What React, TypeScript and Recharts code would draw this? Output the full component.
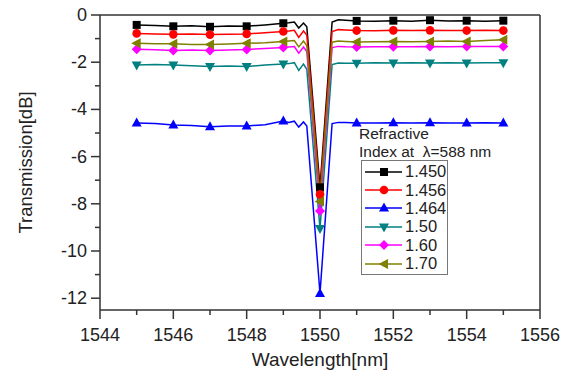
import { LineChart, Line, XAxis, YAxis, Legend, ReferenceLine } from 'recharts'

// wavelength grid (nm), dense around the 1550 nm notch
const wavelength = [
  1545, 1545.5, 1546, 1546.5, 1547, 1547.5, 1548, 1548.5, 1549, 1549.15, 1549.3, 1549.42,
  1549.55, 1549.64, 1550, 1550.33, 1550.5, 1550.7, 1551, 1551.5, 1552, 1552.5, 1553,
  1553.5, 1554, 1554.5, 1555,
]

// transmission in dB for each refractive index
const t1450 = [
  -0.42, -0.45, -0.48, -0.46, -0.5, -0.47, -0.48, -0.42, -0.35, -0.33, -0.3, -0.55, -0.34,
  -0.5, -7.3, -0.3, -0.2, -0.22, -0.25, -0.27, -0.24, -0.26, -0.22, -0.25, -0.24, -0.26, -0.24,
]
const t1456 = [
  -0.78, -0.8, -0.82, -0.8, -0.83, -0.82, -0.8, -0.75, -0.7, -0.68, -0.65, -0.95, -0.68,
  -0.85, -7.6, -0.7, -0.62, -0.64, -0.66, -0.67, -0.65, -0.66, -0.65, -0.66, -0.66, -0.65, -0.66,
]
const t1464 = [
  -4.58, -4.6, -4.66, -4.68, -4.74, -4.7, -4.7, -4.65, -4.49, -4.55, -4.5, -4.75, -4.53,
  -4.7, -11.8, -4.6, -4.55, -4.56, -4.58, -4.58, -4.57, -4.58, -4.57, -4.58, -4.58, -4.57, -4.58,
]
const t150 = [
  -2.12, -2.1, -2.12, -2.15, -2.18, -2.16, -2.18, -2.12, -2.08, -2.06, -2.02, -2.35, -2.08,
  -2.3, -9.05, -2.1, -2.03, -2.04, -2.04, -2.02, -2.03, -2.02, -2.03, -2.02, -2.03, -2.02, -2.02,
]
const t160 = [
  -1.45, -1.47, -1.5, -1.48, -1.5, -1.48, -1.46, -1.42, -1.38, -1.36, -1.34, -1.62, -1.36,
  -1.55, -8.3, -1.38, -1.33, -1.35, -1.36, -1.35, -1.35, -1.35, -1.34, -1.35, -1.34, -1.34, -1.34,
]
const t170 = [
  -1.2, -1.22, -1.22, -1.25, -1.25, -1.23, -1.2, -1.18, -1.12, -1.1, -1.08, -1.35, -1.1,
  -1.3, -7.9, -1.15, -1.1, -1.12, -1.14, -1.13, -1.12, -1.13, -1.12, -1.1, -1.12, -1.08, -1.05,
]

const xTicks = [1544, 1545, 1546, 1547, 1548, 1549, 1550, 1551, 1552, 1553, 1554, 1555, 1556]
const yTicks = [-12, -11, -10, -9, -8, -7, -6, -5, -4, -3, -2, -1, 0]

type Shape = 'square' | 'circle' | 'up' | 'down' | 'diamond' | 'left'

const SERIES: { name: string; key: string; values: number[]; color: string; shape: Shape }[] = [
  { name: '1.450', key: 'n1450', values: t1450, color: '#000000', shape: 'square' },
  { name: '1.456', key: 'n1456', values: t1456, color: '#ff0000', shape: 'circle' },
  { name: '1.464', key: 'n1464', values: t1464, color: '#0000ff', shape: 'up' },
  { name: '1.50', key: 'n150', values: t150, color: '#008080', shape: 'down' },
  { name: '1.60', key: 'n160', values: t160, color: '#ff00ff', shape: 'diamond' },
  { name: '1.70', key: 'n170', values: t170, color: '#808000', shape: 'left' },
]

const data = wavelength.map((w, i) => {
  const row: Record<string, number> = { w }
  SERIES.forEach((s) => (row[s.key] = s.values[i]))
  return row
})

const FONT = '"Liberation Sans", Arial, sans-serif'
const AXIS = '#333'

function marker(shape: Shape, cx: number, cy: number, color: string) {
  switch (shape) {
    case 'square':
      return <rect x={cx - 4} y={cy - 4} width={8} height={8} fill={color} />
    case 'circle':
      return <circle cx={cx} cy={cy} r={4.3} fill={color} />
    case 'up':
      return <polygon points={`${cx},${cy - 5.5} ${cx + 5},${cy + 3.5} ${cx - 5},${cy + 3.5}`} fill={color} />
    case 'down':
      return <polygon points={`${cx},${cy + 5.5} ${cx + 5},${cy - 3.5} ${cx - 5},${cy - 3.5}`} fill={color} />
    case 'diamond':
      return <polygon points={`${cx},${cy - 5} ${cx + 5},${cy} ${cx},${cy + 5} ${cx - 5},${cy}`} fill={color} />
    default:
      return <polygon points={`${cx - 5.5},${cy} ${cx + 4},${cy - 5} ${cx + 4},${cy + 5}`} fill={color} />
  }
}

// markers only every 1 nm, like the original plot
const makeDot = (shape: Shape, color: string) => (props: any) => {
  const { cx, cy, payload, index } = props
  if (cx == null || !Number.isInteger(payload.w)) return <g key={index} />
  return <g key={index}>{marker(shape, cx, cy, color)}</g>
}

const YTick = (props: any) => {
  const { x, y, payload } = props
  const major = payload.value % 2 === 0
  return (
    <g>
      <line x1={x - (major ? 9 : 5)} x2={x} y1={y} y2={y} stroke={AXIS} strokeWidth={1.5} />
      {major && (
        <text x={x - 13} y={y} dy={6} textAnchor="end" fontSize={18} fontFamily={FONT} fill="#222">
          {payload.value}
        </text>
      )}
    </g>
  )
}

const XTick = (props: any) => {
  const { x, y, payload } = props
  const major = payload.value % 2 === 0
  return (
    <g>
      <line x1={x} x2={x} y1={y} y2={y + (major ? 9 : 5)} stroke={AXIS} strokeWidth={1.5} />
      {major && (
        <text x={x} y={y + 31} textAnchor="middle" fontSize={18} fontFamily={FONT} fill="#222">
          {payload.value}
        </text>
      )}
    </g>
  )
}

const LegendBox = () => (
  <div style={{ fontFamily: FONT, color: '#222' }}>
    <div style={{ fontSize: 15.5, lineHeight: '17.7px' }}>Refractive</div>
    <div style={{ fontSize: 15.5, lineHeight: '17.7px', whiteSpace: 'nowrap' }}>
      Index at&nbsp;&nbsp;λ=588 nm
    </div>
    <div style={{ border: '1px solid #777', width: 85, marginLeft: 2, padding: '1px 0 1px 0' }}>
      {SERIES.map((s) => (
        <div key={s.key} style={{ display: 'flex', alignItems: 'center', height: 18.4 }}>
          <svg width={40} height={14} style={{ marginLeft: 1 }}>
            <line x1={2} x2={39} y1={7} y2={7} stroke={s.color} strokeWidth={1.5} />
            {marker(s.shape, 21, 7, s.color)}
          </svg>
          <span style={{ fontSize: 16.5, marginLeft: 2 }}>{s.name}</span>
        </div>
      ))}
    </div>
  </div>
)

export default function App() {
  return (
    <div style={{ position: 'absolute', left: 0, top: 0, background: '#fff' }}>
      <LineChart width={569} height={371} data={data} margin={{ top: 15, right: 29, bottom: 0, left: 0 }}>
        <XAxis
          dataKey="w"
          type="number"
          domain={[1544, 1556]}
          ticks={xTicks}
          interval={0}
          height={61}
          tickSize={0}
          tickMargin={0}
          tickLine={false}
          tick={<XTick />}
          axisLine={{ stroke: AXIS, strokeWidth: 1.5 }}
          label={{
            value: 'Wavelength[nm]',
            position: 'insideBottom',
            offset: 5,
            style: { fontSize: 19, fontFamily: FONT, fill: '#222' },
          }}
        />
        <YAxis
          type="number"
          domain={[-12.5, 0]}
          ticks={yTicks}
          interval={0}
          width={100}
          tickSize={0}
          tickMargin={0}
          tickLine={false}
          tick={<YTick />}
          axisLine={{ stroke: AXIS, strokeWidth: 1.5 }}
          label={{
            value: 'Transmission[dB]',
            angle: -90,
            position: 'insideLeft',
            offset: 25,
            style: { fontSize: 18.5, fontFamily: FONT, fill: '#222', textAnchor: 'middle' },
          }}
        />
        <ReferenceLine y={0} stroke={AXIS} strokeWidth={1.5} />
        <ReferenceLine x={1556} stroke={AXIS} strokeWidth={1.5} />
        {SERIES.map((s) => (
          <Line
            key={s.key}
            dataKey={s.key}
            name={s.name}
            type="linear"
            stroke={s.color}
            strokeWidth={1.5}
            dot={makeDot(s.shape, s.color)}
            activeDot={false}
            isAnimationActive={false}
          />
        ))}
        <Legend
          layout="vertical"
          align="center"
          verticalAlign="middle"
          content={<LegendBox />}
          wrapperStyle={{ left: 359, top: 125, width: 'auto', height: 'auto' }}
        />
      </LineChart>
    </div>
  )
}
